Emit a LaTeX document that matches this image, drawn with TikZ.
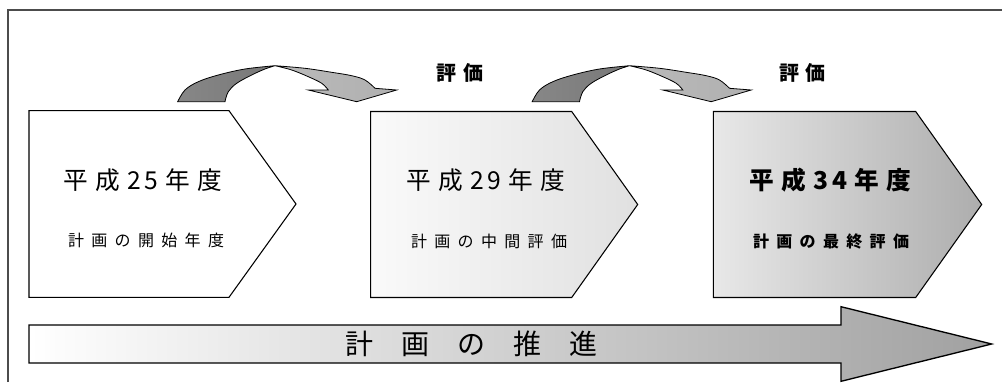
\documentclass[tikz,border=0pt]{standalone}
\usepackage{fontspec}
\newfontfamily\jp{Noto Sans CJK JP}
\newcommand\gsp{\hspace{5.5pt}}
\newcommand\dsp{\hspace{2.5pt}}
\begin{document}
\begin{tikzpicture}[x=0.75pt,y=-0.75pt,
  frame/.style={draw=black!70,line width=1.1pt},
  box/.style={draw=black,line width=0.8pt},
  bigarrow/.style={draw=black,line width=1pt,left color=white,right color=black!37},
  backband/.style={draw=black,line width=0.6pt,left color=black!47,right color=black!53},
  frontband/.style={draw=black,line width=0.6pt,left color=black!27,right color=black!31},
  yeartxt/.style={font=\jp\fontsize{18.5pt}{20pt}\selectfont,inner sep=0pt},
  subtxt/.style={font=\jp\fontsize{12pt}{14pt}\selectfont,inner sep=0pt},
  evaltxt/.style={font=\jp\bfseries\fontsize{15pt}{17pt}\selectfont,inner sep=0pt},
  progtxt/.style={font=\jp\fontsize{21pt}{23pt}\selectfont,inner sep=0pt}]
\useasboundingbox (0,0) rectangle (1002,382);
% frame
\draw[frame] (8,382) -- (8,10) -- (1002,10);
% pentagon boxes
\path[box,fill=white] (29,110.7) -- (229,110.7) -- (296,204) -- (229,297.3) -- (29,297.3) -- cycle;
\path[box,left color=black!2,right color=black!12] (370.7,111.5) -- (571.7,111.5) -- (637.7,204.5) -- (571.7,297.5) -- (370.7,297.5) -- cycle;
\path[box,left color=black!9,right color=black!32] (713.3,111.5) -- (915.7,111.5) -- (981.7,204.5) -- (915.7,297.5) -- (713.3,297.5) -- cycle;
% big progress arrow
\path[bigarrow] (29,325) -- (841,325) -- (841,306.7) -- (991.7,344) -- (841,381.3) -- (841,363) -- (29,363) -- cycle;
% curved arrows
\foreach \dx in {0,354.5}{
\begin{scope}[shift={(\dx,0)}]
\path[backband] plot[smooth,tension=0.6] coordinates {(177.7,101.7) (185,90) (198.3,81.7) (218.3,75) (245,69) (275,65.7)}
  -- plot[smooth,tension=0.6] coordinates {(275,65.7) (265,69) (251.7,75) (236.7,83.3) (228.3,91.7) (225,101.7)} -- cycle;
\path[frontband] plot[smooth,tension=0.6] coordinates {(275,65.7) (305,68.3) (331.7,72.3) (351.7,75.7) (365,80) (375,88.3)}
  -- (396.7,90) -- (356.7,101.7) -- (308.3,90) -- (328.3,90)
  -- plot[smooth,tension=0.6] coordinates {(328.3,90) (321.7,83.3) (308.3,76.7) (291.7,70) (275,65.7)} -- cycle;
\end{scope}}
% texts
\node[yeartxt] (y1) at (142.5,180) {平\gsp 成\gsp 2\dsp 5\gsp 年\gsp 度};
\node[subtxt] (s1) at (146,240.5) {計\gsp 画\gsp の\gsp 開\gsp 始\gsp 年\gsp 度};
\node[yeartxt] (y2) at (486,180) {平\gsp 成\gsp 2\dsp 9\gsp 年\gsp 度};
\node[subtxt] (s2) at (489,241.5) {計\gsp 画\gsp の\gsp 中\gsp 間\gsp 評\gsp 価};
\node[yeartxt,font=\jp\bfseries\fontsize{18.5pt}{20pt}\selectfont] (y3) at (830.5,180) {平\gsp 成\gsp 3\dsp 4\gsp 年\gsp 度};
\node[subtxt,font=\jp\bfseries\fontsize{12pt}{14pt}\selectfont] (s3) at (831,241.5) {計\gsp 画\gsp の\gsp 最\gsp 終\gsp 評\gsp 価};
\node[evaltxt] (e1) at (460,72.5) {評\hspace{5pt}価};
\node[evaltxt] (e2) at (802.5,72.5) {評\hspace{5pt}価};
\node[progtxt] (p) at (471,344) {計\hspace{21pt}画\hspace{21pt}の\hspace{21pt}推\hspace{21pt}進};
\end{tikzpicture}
\end{document}
